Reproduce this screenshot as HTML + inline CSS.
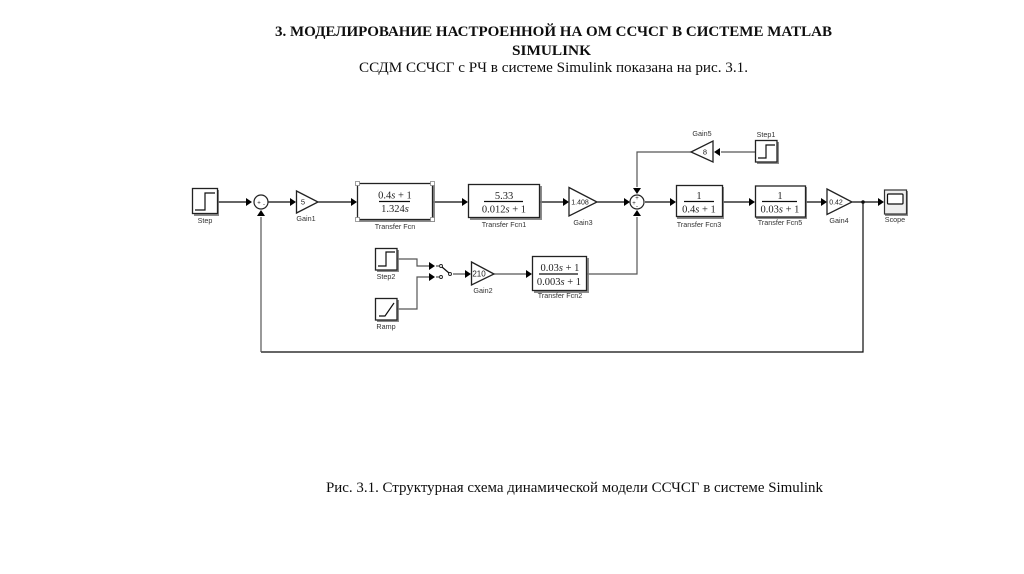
<!DOCTYPE html>
<html lang="ru">
<head>
<meta charset="utf-8">
<style>
html,body{margin:0;padding:0;background:#fff;width:1024px;height:574px;overflow:hidden}
svg{display:block}
.t{font-family:"Liberation Serif",serif;fill:#111;font-size:14.5px}
.l{font-family:"Liberation Sans",sans-serif;fill:#333;font-size:7.2px;text-anchor:middle}
.v{font-family:"Liberation Sans",sans-serif;fill:#222;font-size:7.5px;text-anchor:middle}
.m{font-family:"Liberation Serif",serif;fill:#222;font-size:10.5px;text-anchor:middle}
.w{fill:none;stroke:#111;stroke-width:1.2}
.g{fill:none;stroke:#555;stroke-width:1.2}
.b{fill:#fff;stroke:#222;stroke-width:1.3}
.s{fill:#777;opacity:.85}
</style>
</head>
<body>
<svg width="1024" height="574" viewBox="0 0 1024 574" xmlns="http://www.w3.org/2000/svg">
<defs>
<filter id="soft" x="-2%" y="-2%" width="104%" height="104%"><feGaussianBlur stdDeviation="0.35"/></filter>
</defs>

<g filter="url(#soft)">
<text class="t" x="275" y="36" font-weight="bold" textLength="557" lengthAdjust="spacingAndGlyphs">3. МОДЕЛИРОВАНИЕ НАСТРОЕННОЙ НА ОМ ССЧСГ В СИСТЕМЕ MATLAB</text>
<text class="t" x="512" y="55" font-weight="bold" textLength="79" lengthAdjust="spacingAndGlyphs">SIMULINK</text>
<text class="t" x="359" y="72" textLength="389" lengthAdjust="spacingAndGlyphs">ССДМ ССЧСГ с РЧ в системе Simulink показана на рис. 3.1.</text>
<text class="t" x="326" y="492" textLength="497" lengthAdjust="spacingAndGlyphs">Рис. 3.1. Структурная схема динамической модели ССЧСГ в системе Simulink</text>

<!-- wires -->
<path class="w" d="M218 202H248M268 202H291M318 202H352M433 202H463M540 202H564M597 202H625M645 202H671M723 202H750M806 202H822M852 202H879"/>
<path class="w" d="M863 202V352H261"/>
<path class="g" d="M261 352V217"/>
<path class="g" d="M637 187V152H691M755 152H721"/>
<path class="g" d="M397 259H417V266H430M397 309H417V277H430"/>
<path class="g" d="M453 274H465M494 274H526M587 274H637V217"/>
<circle cx="863" cy="202" r="1.800" fill="#111"/>

<!-- arrowheads -->
<g fill="#000">
<path d="M246 198L252 202L246 206Z"/>
<path d="M290 198L296 202L290 206Z"/>
<path d="M351 198L357 202L351 206Z"/>
<path d="M462 198L468 202L462 206Z"/>
<path d="M563 198L569 202L563 206Z"/>
<path d="M624 198L630 202L624 206Z"/>
<path d="M670 198L676 202L670 206Z"/>
<path d="M749 198L755 202L749 206Z"/>
<path d="M821 198L827 202L821 206Z"/>
<path d="M878 198L884 202L878 206Z"/>
<path d="M257 216L261 210L265 216Z"/>
<path d="M633 188L637 194L641 188Z"/>
<path d="M633 216L637 210L641 216Z"/>
<path d="M720 148L714 152L720 156Z"/>
<path d="M429 262L435 266L429 270Z"/>
<path d="M429 273L435 277L429 281Z"/>
<path d="M465 270L471 274L465 278Z"/>
<path d="M526 270L532 274L526 278Z"/>
</g>

<!-- Step -->
<rect class="s" x="194" y="190" width="25" height="26"/>
<rect class="b" x="192.500" y="188.500" width="25" height="25"/>
<path class="w" d="M195 210H205V193H215"/>
<text class="l" x="205" y="223">Step</text>

<!-- Sum 1 -->
<circle cx="261" cy="202" r="7" fill="#fff" stroke="#222" stroke-width="1.200"/>
<text class="v" x="259" y="204.500" style="font-size:6px">+</text>
<text class="v" x="264" y="206" style="font-size:6px">-</text>

<!-- Gain1 -->
<path class="b" d="M296.500 191L318 202L296.500 213Z"/>
<text class="v" x="303" y="204.500">5</text>
<text class="l" x="306" y="221">Gain1</text>

<!-- Transfer Fcn -->
<rect class="s" x="359" y="185" width="76" height="37"/>
<rect class="b" x="357.500" y="183.500" width="75" height="36"/>
<g fill="#fff" stroke="#888" stroke-width=".8">
<rect x="355.500" y="181.500" width="4" height="4"/><rect x="430.500" y="181.500" width="4" height="4"/>
<rect x="355.500" y="217.500" width="4" height="4"/><rect x="430.500" y="217.500" width="4" height="4"/>
</g>
<text class="m" x="395" y="198.500">0.4<tspan font-style="italic">s</tspan> + 1</text>
<path class="w" d="M379 201.500H410"/>
<text class="m" x="395" y="212">1.324<tspan font-style="italic">s</tspan></text>
<text class="l" x="395" y="229">Transfer Fcn</text>

<!-- Fcn1 -->
<rect class="s" x="470" y="186" width="72" height="34"/>
<rect class="b" x="468.500" y="184.500" width="71" height="33"/>
<text class="m" x="504" y="199">5.33</text>
<path class="w" d="M484 201.500H523"/>
<text class="m" x="504" y="212.500">0.012<tspan font-style="italic">s</tspan> + 1</text>
<text class="l" x="504" y="227">Transfer Fcn1</text>

<!-- Gain3 -->
<path class="b" d="M569 187.500L597 202L569 216Z"/>
<text class="v" x="580" y="204.500" style="font-size:7px">1.408</text>
<text class="l" x="583" y="225">Gain3</text>

<!-- Sum 2 -->
<circle cx="637" cy="202" r="7" fill="#fff" stroke="#222" stroke-width="1.200"/>
<text class="v" x="637" y="200" style="font-size:6px">+</text>
<text class="v" x="634" y="205" style="font-size:6px">+</text>
<text class="v" x="637" y="208" style="font-size:6px">-</text>

<!-- Fcn3 -->
<rect class="s" x="677" y="187" width="47" height="32"/>
<rect class="b" x="676.500" y="185.500" width="46" height="31"/>
<text class="m" x="699" y="199">1</text>
<path class="w" d="M684 201.500H714"/>
<text class="m" x="699" y="212.500">0.4<tspan font-style="italic">s</tspan> + 1</text>
<text class="l" x="699" y="227">Transfer Fcn3</text>

<!-- Fcn5 -->
<rect class="s" x="756" y="187" width="51" height="32"/>
<rect class="b" x="755.500" y="186" width="50" height="31"/>
<text class="m" x="780" y="199">1</text>
<path class="w" d="M762 201.500H797"/>
<text class="m" x="780" y="212.500">0.03<tspan font-style="italic">s</tspan> + 1</text>
<text class="l" x="780" y="225">Transfer Fcn5</text>

<!-- Gain4 -->
<path class="b" d="M827 189L852 202L827 214.500Z"/>
<text class="v" x="836" y="204.500" style="font-size:7px">0.42</text>
<text class="l" x="839" y="223">Gain4</text>

<!-- Scope -->
<rect class="s" x="885" y="191" width="23" height="25"/>
<rect x="884.500" y="190" width="22" height="24" fill="#eee" stroke="#333" stroke-width="1.200"/>
<rect x="887.500" y="194" width="15.500" height="10" rx="1" fill="#fff" stroke="#111" stroke-width="1.200"/>
<text class="l" x="895" y="222">Scope</text>

<!-- Gain5 -->
<path class="b" d="M713 141V162L691 152Z"/>
<text class="v" x="705" y="154.500">8</text>
<text class="l" x="702" y="136">Gain5</text>

<!-- Step1 -->
<rect class="s" x="757" y="142" width="22" height="22"/>
<rect class="b" x="755.500" y="140.500" width="21.500" height="21.500"/>
<path class="w" d="M758 158H766V145H775"/>
<text class="l" x="766" y="137">Step1</text>

<!-- Step2 -->
<rect class="s" x="377" y="250" width="22" height="22"/>
<rect class="b" x="375.500" y="248.500" width="21.500" height="21.500"/>
<path class="w" d="M378 266H386V252H395"/>
<text class="l" x="386" y="279">Step2</text>

<!-- Ramp -->
<rect class="s" x="377" y="300" width="22" height="22"/>
<rect class="b" x="375.500" y="298.500" width="21.500" height="21.500"/>
<path class="w" d="M379 316H385L394 303"/>
<text class="l" x="386" y="329">Ramp</text>

<!-- Switch -->
<circle cx="441" cy="266" r="1.500" fill="#fff" stroke="#222" stroke-width=".9"/>
<circle cx="441" cy="277" r="1.500" fill="#fff" stroke="#222" stroke-width=".9"/>
<circle cx="450" cy="274" r="1.500" fill="#fff" stroke="#222" stroke-width=".9"/>
<path class="g" d="M436 266H439.500M436 277H439.500"/>
<path class="w" d="M442 267L449 273"/>

<!-- Gain2 -->
<path class="b" d="M471.500 262L494 274L471.500 285Z"/>
<text class="v" x="479" y="276.500" style="font-size:8px">210</text>
<text class="l" x="483" y="293">Gain2</text>

<!-- Fcn2 -->
<rect class="s" x="534" y="258" width="55" height="35"/>
<rect class="b" x="532.500" y="256.500" width="54" height="34"/>
<text class="m" x="560" y="271">0.03<tspan font-style="italic">s</tspan> + 1</text>
<path class="w" d="M539 274H578"/>
<text class="m" x="559" y="285">0.003<tspan font-style="italic">s</tspan> + 1</text>
<text class="l" x="560" y="298">Transfer Fcn2</text>
</g>
</svg>
</body>
</html>
